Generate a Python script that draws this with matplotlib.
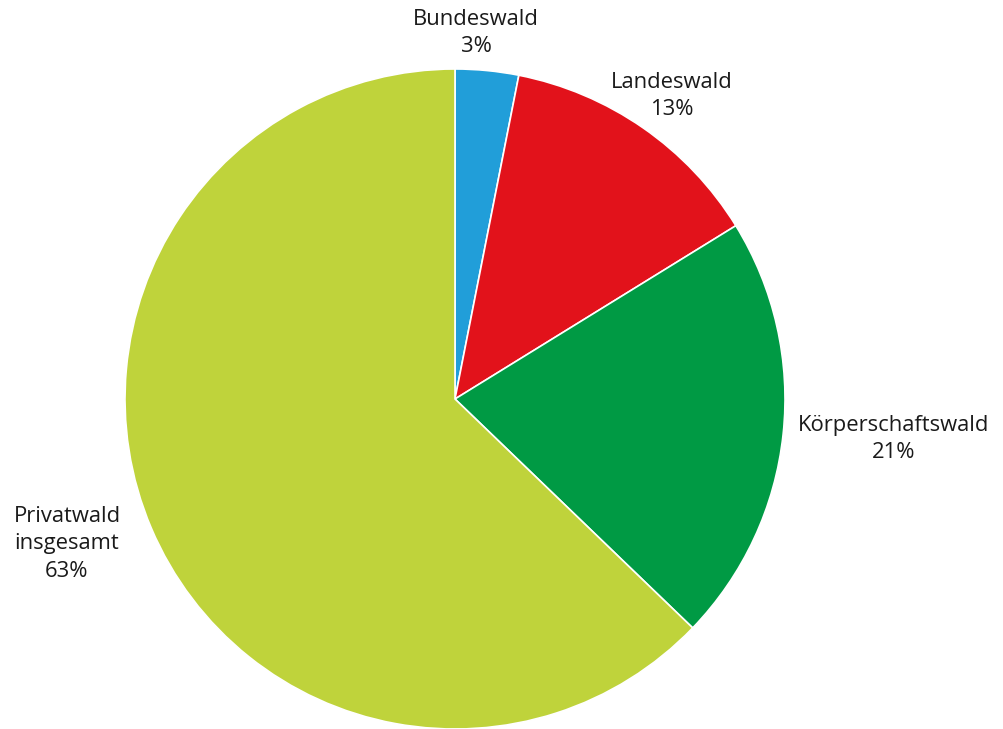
import matplotlib
matplotlib.use("Agg")
import matplotlib.pyplot as plt

categories = ["Bundeswald", "Landeswald", "Körperschaftswald", "Privatwald\ninsgesamt"]
values = [3.1, 13.1, 21.0, 62.8]
pct_labels = ["3%", "13%", "21%", "63%"]
colors = ["#219ED9", "#E2121B", "#009A44", "#BFD33B"]

W, H = 1004, 729
cx, cy, R = 455, 399, 330
fig = plt.figure(figsize=(W / 100, H / 100), dpi=100)
ax = fig.add_axes([(cx - R) / W, (H - cy - R) / H, 2 * R / W, 2 * R / H])
ax.pie(values, colors=colors, startangle=90, counterclock=False, radius=1,
       wedgeprops=dict(edgecolor="white", linewidth=1.2))
ax.set_xlim(-1, 1)
ax.set_ylim(-1, 1)
ax.set_aspect("equal")
ax.axis("off")

# label positions in pixels (layout only)
label_px = [(476, 33), (672, 96), (894, 439), (67, 544)]
for cat, pct, (px, py) in zip(categories, pct_labels, label_px):
    x = (px - cx) / R
    y = (cy - py) / R
    ax.text(x, y, f"{cat}\n{pct}", ha="center", va="center", fontsize=15.8,
            family=["Open Sans", "DejaVu Sans"], color="#1a1a1a", linespacing=1.42,
            clip_on=False)

fig.savefig("out.png", dpi=100)
